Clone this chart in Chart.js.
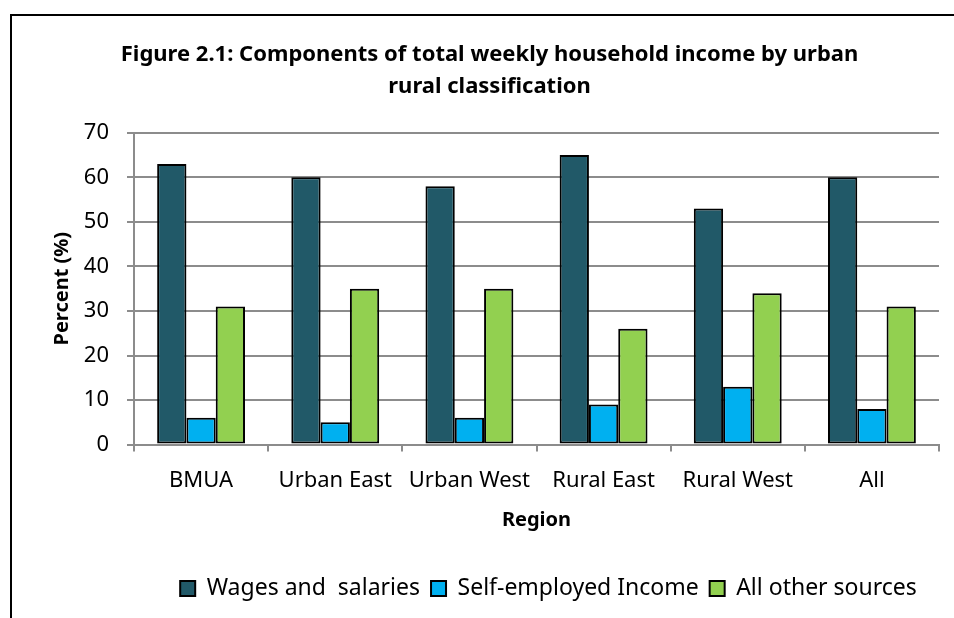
<!DOCTYPE html>
<html>
<head>
<meta charset="utf-8">
<script src="https://cdn.jsdelivr.net/npm/chart.js@4/dist/chart.umd.min.js"></script>
<style>
html,body{margin:0;padding:0;background:#fff;}
canvas{display:block;}
</style>
</head>
<body>
<canvas id="c" width="954" height="618"></canvas>
<script>
const categories = ["BMUA", "Urban East", "Urban West", "Rural East", "Rural West", "All"];
const wages = [63, 60, 58, 65, 53, 60];
const selfEmployed = [6, 5, 6, 9, 13, 8];
const otherSources = [31, 35, 35, 26, 34, 31];
const yTicks = [0, 10, 20, 30, 40, 50, 60, 70];

const FONT = "'Noto Sans', 'Open Sans', sans-serif";

const framePlugin = {
  id: 'frame',
  beforeDraw(chart) {
    const ctx = chart.ctx;
    ctx.save();
    ctx.fillStyle = '#fff';
    ctx.fillRect(0, 0, chart.width, chart.height);
    ctx.strokeStyle = '#000';
    ctx.lineWidth = 2;
    ctx.beginPath();
    ctx.moveTo(11, 618);
    ctx.lineTo(11, 15);
    ctx.lineTo(954, 15);
    ctx.stroke();
    ctx.restore();
  }
};

const shiftPlugin = {
  id: 'shiftBlocks',
  afterLayout(chart) {
    const lg = chart.legend;
    if (lg) { lg.left += 79; lg.right += 79; }
    const tb = chart.titleBlock;
    if (tb) { tb.left += 20; tb.right += 20; }
  }
};

new Chart(document.getElementById('c'), {
  type: 'bar',
  data: {
    labels: categories,
    datasets: [
      { label: 'Wages and  salaries', data: wages, backgroundColor: '#215968', borderColor: '#000', borderWidth: 2, borderSkipped: false },
      { label: 'Self-employed Income', data: selfEmployed, backgroundColor: '#00B0F0', borderColor: '#000', borderWidth: 2, borderSkipped: false },
      { label: 'All other sources', data: otherSources, backgroundColor: '#92D050', borderColor: '#000', borderWidth: 2, borderSkipped: false }
    ]
  },
  options: {
    responsive: false,
    animation: false,
    devicePixelRatio: 1,
    layout: { padding: { left: 0, right: 15, top: 0, bottom: 8 } },
    datasets: { bar: { categoryPercentage: 0.655, barPercentage: 1.0 } },
    plugins: {
      tooltip: { enabled: false },
      title: {
        display: true,
        text: ['Figure 2.1: Components of total weekly household income by urban', 'rural classification'],
        color: '#000',
        font: { family: FONT, size: 22, weight: 'bold', lineHeight: 1.45 },
        padding: { top: 39, bottom: 30 }
      },
      legend: {
        position: 'bottom',
        labels: {
          color: '#000',
          font: { family: FONT, size: 23, lineHeight: 1.15 },
          boxWidth: 15,
          boxHeight: 15,
          padding: 11
        }
      }
    },
    scales: {
      x: {
        grid: { display: true, drawOnChartArea: false, drawTicks: true, tickLength: 7, color: '#8c8c8c', lineWidth: 2, offset: true },
        border: { display: true, color: '#8c8c8c', width: 2 },
        ticks: { color: '#000', font: { family: FONT, size: 22 }, padding: 16, maxRotation: 0, autoSkip: false },
        title: { display: true, text: 'Region', color: '#000', font: { family: FONT, size: 20, weight: 'bold', lineHeight: 0.8 }, padding: { top: 2, bottom: 38 } }
      },
      y: {
        min: 0,
        max: 70,
        afterBuildTicks(scale) { scale.ticks = yTicks.map(v => ({ value: v })); },
        afterFit(scale) { scale.width = 134; },
        grid: { color: '#8c8c8c', lineWidth: 2, tickLength: 7 },
        border: { display: true, color: '#8c8c8c', width: 2 },
        ticks: { color: '#000', font: { family: FONT, size: 22 }, padding: 18 },
        title: { display: true, text: 'Percent (%)', color: '#000', font: { family: FONT, size: 20, weight: 'bold' }, padding: { top: 50, bottom: 4 } }
      }
    }
  },
  plugins: [framePlugin, shiftPlugin]
});
</script>
</body>
</html>
